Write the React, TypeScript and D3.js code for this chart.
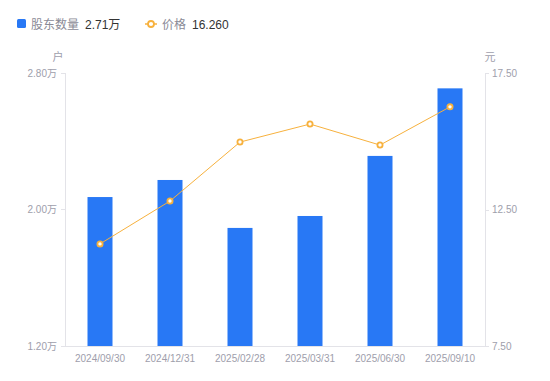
import React from "react";
import * as d3 from "d3";

const categories = ["2024/09/30", "2024/12/31", "2025/02/28", "2025/03/31", "2025/06/30", "2025/09/10"];
const holders = [2.073, 2.173, 1.892, 1.962, 2.314, 2.71];
const prices = [11.24, 12.81, 14.97, 15.63, 14.86, 16.26];
const leftTicks = [1.2, 2.0, 2.8];
const rightTicks = [7.5, 12.5, 17.5];

const W = 550, H = 381;
const M = { left: 65, right: 65, top: 73, bottom: 35 };
const FONT = "'Liberation Sans', Arial, 'Noto Sans CJK SC', sans-serif";

export default function App() {
  const x = d3.scaleBand<string>().domain(categories).range([M.left, W - M.right]);
  const yL = d3.scaleLinear().domain([1.2, 2.8]).range([H - M.bottom, M.top]);
  const yR = d3.scaleLinear().domain([7.5, 17.5]).range([H - M.bottom, M.top]);
  const bw = 25;
  const cx = (c: string) => (x(c) as number) + x.bandwidth() / 2;
  const line = d3.line<number>().x((_, i) => cx(categories[i])).y((d) => yR(d));
  const base = H - M.bottom;
  const axisColor = "#e3e3e8";
  const tickText = "#9e9eab";

  return (
    <svg width={W} height={H} style={{ position: "absolute", left: 0, top: 0, fontFamily: FONT }}>
      {/* legend */}
      <rect x={17} y={19} width={9} height={9} rx={1.5} fill="#2878f5" />
      <text x={31} y={28.5} fontSize={12} fill="#8a8a96">股东数量</text>
      <text x={85} y={28.5} fontSize={12} fill="#333">2.71万</text>
      <line x1={145} x2={157} y1={24} y2={24} stroke="#f7b13d" strokeWidth={1.5} />
      <circle cx={151} cy={24} r={3} fill="#fff" stroke="#f7b13d" strokeWidth={1.8} />
      <text x={162} y={28.5} fontSize={12} fill="#8a8a96">价格</text>
      <text x={192} y={28.5} fontSize={12} fill="#333">16.260</text>

      {/* unit labels */}
      <text x={58} y={61} fontSize={11} fill={tickText} textAnchor="middle">户</text>
      <text x={490} y={61} fontSize={11} fill={tickText} textAnchor="middle">元</text>

      {/* axes */}
      <line x1={M.left + 0.5} x2={M.left + 0.5} y1={M.top} y2={base} stroke={axisColor} />
      <line x1={W - M.right + 0.5} x2={W - M.right + 0.5} y1={M.top} y2={base} stroke={axisColor} />
      {leftTicks.map((t) => (
        <g key={"l" + t}>
          <line x1={M.left - 4} x2={M.left} y1={Math.round(yL(t)) + 0.5} y2={Math.round(yL(t)) + 0.5} stroke={axisColor} />
          <text x={M.left - 8} y={yL(t) + 3.5} fontSize={10} fill={tickText} textAnchor="end">{t.toFixed(2)}万</text>
        </g>
      ))}
      {rightTicks.map((t) => (
        <g key={"r" + t}>
          <line x1={W - M.right} x2={W - M.right + 4} y1={Math.round(yR(t)) + 0.5} y2={Math.round(yR(t)) + 0.5} stroke={axisColor} />
          <text x={W - M.right + 7} y={yR(t) + 3.5} fontSize={10} fill={tickText}>{t.toFixed(2)}</text>
        </g>
      ))}

      {/* bars */}
      {holders.map((v, i) => (
        <rect key={"b" + i} x={cx(categories[i]) - bw / 2} y={yL(v)} width={bw} height={base - yL(v)} fill="#2878f5" />
      ))}
      <line x1={M.left} x2={W - M.right} y1={base + 0.5} y2={base + 0.5} stroke={axisColor} />

      {/* x labels */}
      {categories.map((c) => (
        <text key={c} x={cx(c)} y={base + 16} fontSize={10} fill={tickText} textAnchor="middle">{c}</text>
      ))}

      {/* line */}
      <path d={line(prices) || ""} fill="none" stroke="#f7b13d" strokeWidth={1} />
      {prices.map((p, i) => (
        <circle key={"p" + i} cx={cx(categories[i])} cy={yR(p)} r={2.6} fill="#fff" stroke="#f7b13d" strokeWidth={1.8} />
      ))}
    </svg>
  );
}
